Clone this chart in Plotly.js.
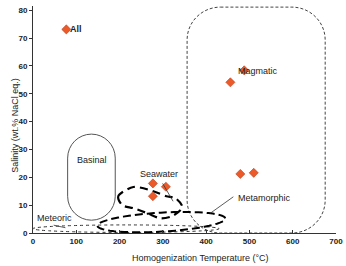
<!DOCTYPE html>
<html><head><meta charset="utf-8">
<script src="https://cdn.plot.ly/plotly-3.0.1.min.js"></script>
<style>html,body{margin:0;padding:0;background:#fff}#chart{width:346px;height:266px}</style>
</head><body><div id="chart"></div>
<script>
// ---- data ----
const allX = [77];           const allY = [73.1];
const magmaticX = [456, 488]; const magmaticY = [54.1, 58.4];
const metamorphicX = [479, 510]; const metamorphicY = [21.2, 21.6];
const seawaterX = [277, 307, 277]; const seawaterY = [17.8, 16.6, 13.2];

const xTicks = [0, 100, 200, 300, 400, 500, 600, 700];
const yTicks = [0, 10, 20, 30, 40, 50, 60, 70, 80];

// field outlines (data coords)
const seawaterFieldX = [232, 197, 206, 232, 264, 294, 322, 345, 329, 308, 278, 232];
const seawaterFieldY = [16.5, 13.2, 10.0, 8.9, 7.1, 5.3, 6.1, 9.3, 12.5, 13.2, 15.0, 16.5];

const FONT = 'Liberation Sans, Arial, sans-serif';
const PXX = 303 / 700;        // px per x unit
const PXY = 227 / 81.5;       // px per y unit

function roundRect(x0, x1, y0, y1, rx, ry) {
  const k = 0.5523;
  return 'M ' + (x0 + rx) + ',' + y1 +
    ' L ' + (x1 - rx) + ',' + y1 +
    ' C ' + (x1 - rx + k * rx) + ',' + y1 + ' ' + x1 + ',' + (y1 - ry + k * ry) + ' ' + x1 + ',' + (y1 - ry) +
    ' L ' + x1 + ',' + (y0 + ry) +
    ' C ' + x1 + ',' + (y0 + ry - k * ry) + ' ' + (x1 - rx + k * rx) + ',' + y0 + ' ' + (x1 - rx) + ',' + y0 +
    ' L ' + (x0 + rx) + ',' + y0 +
    ' C ' + (x0 + rx - k * rx) + ',' + y0 + ' ' + x0 + ',' + (y0 + ry - k * ry) + ' ' + x0 + ',' + (y0 + ry) +
    ' L ' + x0 + ',' + (y1 - ry) +
    ' C ' + x0 + ',' + (y1 - ry + k * ry) + ' ' + (x0 + rx - k * rx) + ',' + y1 + ' ' + (x0 + rx) + ',' + y1 + ' Z';
}
function tiltedEllipse(cx, cy, aPx, bPx, deg) {
  const th = deg * Math.PI / 180;
  let p = '';
  for (let i = 0; i <= 60; i++) {
    const t = i / 60 * 2 * Math.PI;
    const dx = aPx * Math.cos(t) * Math.cos(th) - bPx * Math.sin(t) * Math.sin(th);
    const dy = aPx * Math.cos(t) * Math.sin(th) + bPx * Math.sin(t) * Math.cos(th);
    p += (i === 0 ? 'M ' : ' L ') + (cx + dx / PXX).toFixed(2) + ',' + (cy + dy / PXY).toFixed(3);
  }
  return p + ' Z';
}

const diamond = {symbol: 'diamond', size: 7, color: '#ec5a2a', line: {color: '#b83a1a', width: 0.6}};
const pts = (x, y) => ({x, y, type: 'scatter', mode: 'markers', marker: diamond, hoverinfo: 'skip', cliponaxis: false});

const traces = [
  {x: seawaterFieldX, y: seawaterFieldY, type: 'scatter', mode: 'lines',
   line: {color: '#000', width: 2.2, dash: '8px,5px', shape: 'spline', smoothing: 0.8}, hoverinfo: 'skip'},
  pts(allX, allY), pts(magmaticX, magmaticY), pts(metamorphicX, metamorphicY), pts(seawaterX, seawaterY)
];

const thin = {color: '#333', width: 0.8};
const shapes = [
  {type: 'path', xref: 'x', yref: 'y', layer: 'below', path: roundRect(356, 675, 0, 81.1, 77, 11.8),
   line: {color: '#444', width: 1, dash: '3px,2px'}},
  {type: 'path', xref: 'x', yref: 'y', layer: 'below', path: roundRect(80, 190, 4.6, 35.5, 55, 8.6),
   line: {color: '#555', width: 1}},
  {type: 'circle', xref: 'x', yref: 'y', layer: 'below', x0: 0, x1: 430, y0: 0.2, y1: 2.9,
   line: {color: '#333', width: 1, dash: 'dot'}},
  {type: 'path', xref: 'x', yref: 'y', layer: 'below', path: tiltedEllipse(296.5, 3.9, 64, 9.5, 3.3),
   line: {color: '#000', width: 2, dash: '8px,4px'}},
  {type: 'line', xref: 'x', yref: 'y', x0: 47.8, y0: 2.8, x1: 74.8, y1: 1.9, line: thin},
  {type: 'line', xref: 'x', yref: 'y', x0: 299.5, y0: 17.8, x1: 323.6, y1: 11.4, line: thin},
  {type: 'line', xref: 'x', yref: 'y', x0: 462.8, y0: 13, x1: 409.7, y1: 7.1, line: thin}
];

const lab = (text, x, y, extra) => Object.assign({text, x, y, xref: 'x', yref: 'y', showarrow: false,
  font: {family: FONT, size: 9, color: '#222'}}, extra || {});
const annotations = [
  lab('<b>All</b>', 82, 73.1, {xanchor: 'left'}),
  lab('Magmatic', 519, 58.2),
  lab('Metamorphic', 534, 12.4),
  lab('Seawater', 292, 21.3),
  lab('Basinal', 136.5, 26.2),
  lab('Meteoric', 49.5, 5.3),
  {text: 'Homogenization Temperature (°C)', xref: 'x', yref: 'paper', x: 386, y: 0, yanchor: 'top', yshift: -18,
   showarrow: false, font: {family: FONT, size: 9, color: '#222'}},
  {text: 'Salinity (wt.% NaCl eq.)', xref: 'paper', yref: 'paper', x: 0, y: 0.474, xshift: -24.7, textangle: -90,
   showarrow: false, font: {family: FONT, size: 9, color: '#222'}}
];

const layout = {
  width: 346, height: 266,
  margin: {l: 33, r: 10, t: 6, b: 33},
  paper_bgcolor: '#fff', plot_bgcolor: '#fff',
  showlegend: false,
  font: {family: FONT},
  xaxis: {range: [0, 700], tickvals: xTicks, ticktext: xTicks.map(String), showgrid: false, zeroline: false,
          showline: true, linecolor: '#333', linewidth: 1, ticks: 'inside', ticklen: 3, tickcolor: '#333',
          tickfont: {family: FONT, size: 8, color: '#222', weight: 'bold'}},
  yaxis: {range: [0, 81.5], tickvals: yTicks, ticktext: yTicks.map(String), showgrid: false, zeroline: false,
          showline: true, linecolor: '#333', linewidth: 1, ticks: 'outside', ticklen: 3, tickcolor: '#333',
          tickfont: {family: FONT, size: 8, color: '#222', weight: 'bold'}},
  shapes, annotations
};

Plotly.newPlot('chart', traces, layout, {staticPlot: true, displayModeBar: false});
</script></body></html>
